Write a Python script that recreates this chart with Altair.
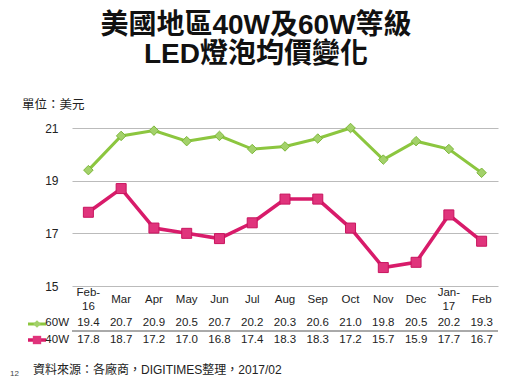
import altair as alt
import pandas as pd

months = ["Feb-\n16", "Mar", "Apr", "May", "Jun", "Jul", "Aug", "Sep", "Oct", "Nov", "Dec", "Jan-\n17", "Feb"]
w60 = [19.4, 20.7, 20.9, 20.5, 20.7, 20.2, 20.3, 20.6, 21.0, 19.8, 20.5, 20.2, 19.3]
w40 = [17.8, 18.7, 17.2, 17.0, 16.8, 17.4, 18.3, 18.3, 17.2, 15.7, 15.9, 17.7, 16.7]
y_ticks = [15, 17, 19, 21]
title_lines = ["美國地區40W及60W等級", "LED燈泡均價變化"]
unit_label = "單位：美元"
source_label = "資料來源：各廠商，DIGITIMES整理，2017/02"
page_no = "12"

FONT = "Liberation Sans, Arial, Noto Sans CJK TC, sans-serif"
GREEN = "#8CC63F"
GREEN_M = "#A3D16A"
MAG = "#D81B6A"
MAG_M = "#E0347C"

W, H = 426, 158

df60 = pd.DataFrame({"month": months, "value": w60})
df40 = pd.DataFrame({"month": months, "value": w40})
dfm = pd.DataFrame({"month": months})
one = pd.DataFrame({"a": [0]})

xs = alt.X("month:N", sort=months, scale=alt.Scale(type="point", padding=0.5),
           axis=None)
ys = alt.Y("value:Q", scale=alt.Scale(domain=[15, 21], zero=False, nice=False),
           axis=alt.Axis(values=y_ticks, title=None, domain=False, ticks=False,
                         labelPadding=14, labelFontSize=12, labelColor="#222",
                         labelFont=FONT, gridColor="#BBBBBB", gridWidth=1.2))

line60 = alt.Chart(df60).mark_line(color=GREEN, strokeWidth=3).encode(x=xs, y=ys)
pts60 = alt.Chart(df60).mark_point(shape="diamond", filled=True, size=90, color=GREEN_M,
                                    stroke="#7DB83A", strokeWidth=1, opacity=1).encode(x=xs, y=ys)
line40 = alt.Chart(df40).mark_line(color=MAG, strokeWidth=3.5).encode(x=xs, y=ys)
pts40 = alt.Chart(df40).mark_square(size=100, color=MAG_M, stroke="#C8145E",
                                    strokeWidth=1, opacity=1).encode(x=xs, y=ys)

xt = alt.X("month:N", sort=months, scale=alt.Scale(type="point", padding=0.5), axis=None)

mlabels1 = alt.Chart(dfm).transform_filter(
    "indexof(datum.month, '\\n') < 0"
).mark_text(baseline="middle", fontSize=11.5, font=FONT, color="#222").encode(
    x=xt, y=alt.value(172), text="month:N")
mlabels2 = alt.Chart(dfm).transform_filter(
    "indexof(datum.month, '\\n') >= 0"
).mark_text(lineBreak="\n", baseline="middle", fontSize=11.5, font=FONT, color="#222",
            lineHeight=14).encode(x=xt, y=alt.value(165), text="month:N")
t60 = alt.Chart(df60).mark_text(baseline="middle", fontSize=11.5, font=FONT, color="#222").encode(
    x=xt, y=alt.value(195), text=alt.Text("value:Q", format=".1f"))
t40 = alt.Chart(df40).mark_text(baseline="middle", fontSize=11.5, font=FONT, color="#222").encode(
    x=xt, y=alt.value(212), text=alt.Text("value:Q", format=".1f"))

sep = alt.Chart(one).mark_rule(color="#555", strokeWidth=1).encode(
    x=alt.value(0), x2=alt.value(W), y=alt.value(203))

leg60_line = alt.Chart(one).mark_rule(color=GREEN, strokeWidth=3).encode(
    x=alt.value(-44), x2=alt.value(-26), y=alt.value(196))
leg60_pt = alt.Chart(one).mark_point(shape="diamond", filled=True, size=60, color=GREEN_M,
                                     opacity=1).encode(x=alt.value(-35), y=alt.value(196))
leg40_line = alt.Chart(one).mark_rule(color=MAG, strokeWidth=3.5).encode(
    x=alt.value(-44), x2=alt.value(-26), y=alt.value(212))
leg40_pt = alt.Chart(one).mark_square(size=70, color=MAG_M, opacity=1).encode(
    x=alt.value(-35), y=alt.value(212))
leg60_txt = alt.Chart(one).mark_text(align="right", baseline="middle", fontSize=11.5, font=FONT,
                                     color="#222").encode(x=alt.value(-3), y=alt.value(195),
                                                          text=alt.value("60W"))
leg40_txt = alt.Chart(one).mark_text(align="right", baseline="middle", fontSize=11.5, font=FONT,
                                     color="#222").encode(x=alt.value(-3), y=alt.value(212),
                                                          text=alt.value("40W"))

title1 = alt.Chart(one).mark_text(align="center", baseline="middle", fontSize=28, fontWeight="bold",
                                  font=FONT, color="#111").encode(
    x=alt.value(184), y=alt.value(-102), text=alt.value(title_lines[0]))
title2 = alt.Chart(one).mark_text(align="center", baseline="middle", fontSize=28, fontWeight="bold",
                                  font=FONT, color="#111").encode(
    x=alt.value(184), y=alt.value(-73), text=alt.value(title_lines[1]))
unit = alt.Chart(one).mark_text(align="left", baseline="middle", fontSize=12.5, font=FONT,
                                color="#222").encode(x=alt.value(-50), y=alt.value(-23),
                                                     text=alt.value(unit_label))
source = alt.Chart(one).mark_text(align="left", baseline="middle", fontSize=12, font=FONT,
                                  color="#222").encode(x=alt.value(-39), y=alt.value(242),
                                                       text=alt.value(source_label))
pg = alt.Chart(one).mark_text(align="left", baseline="middle", fontSize=8, font=FONT,
                              color="#444").encode(x=alt.value(-62), y=alt.value(246),
                                                   text=alt.value(page_no))

chart = alt.layer(
    line60, pts60, line40, pts40, mlabels1, mlabels2, t60, t40, sep,
    leg60_line, leg60_pt, leg40_line, leg40_pt, leg60_txt, leg40_txt,
    title1, title2, unit, source, pg
).properties(
    width=W, height=H,
    autosize=alt.AutoSizeParams(type="none"),
    padding={"left": 64, "top": 120, "right": 24, "bottom": 95},
    background="white",
).configure_view(stroke=None)

chart.save("out.html", embed_options={"renderer": "svg", "actions": False})
